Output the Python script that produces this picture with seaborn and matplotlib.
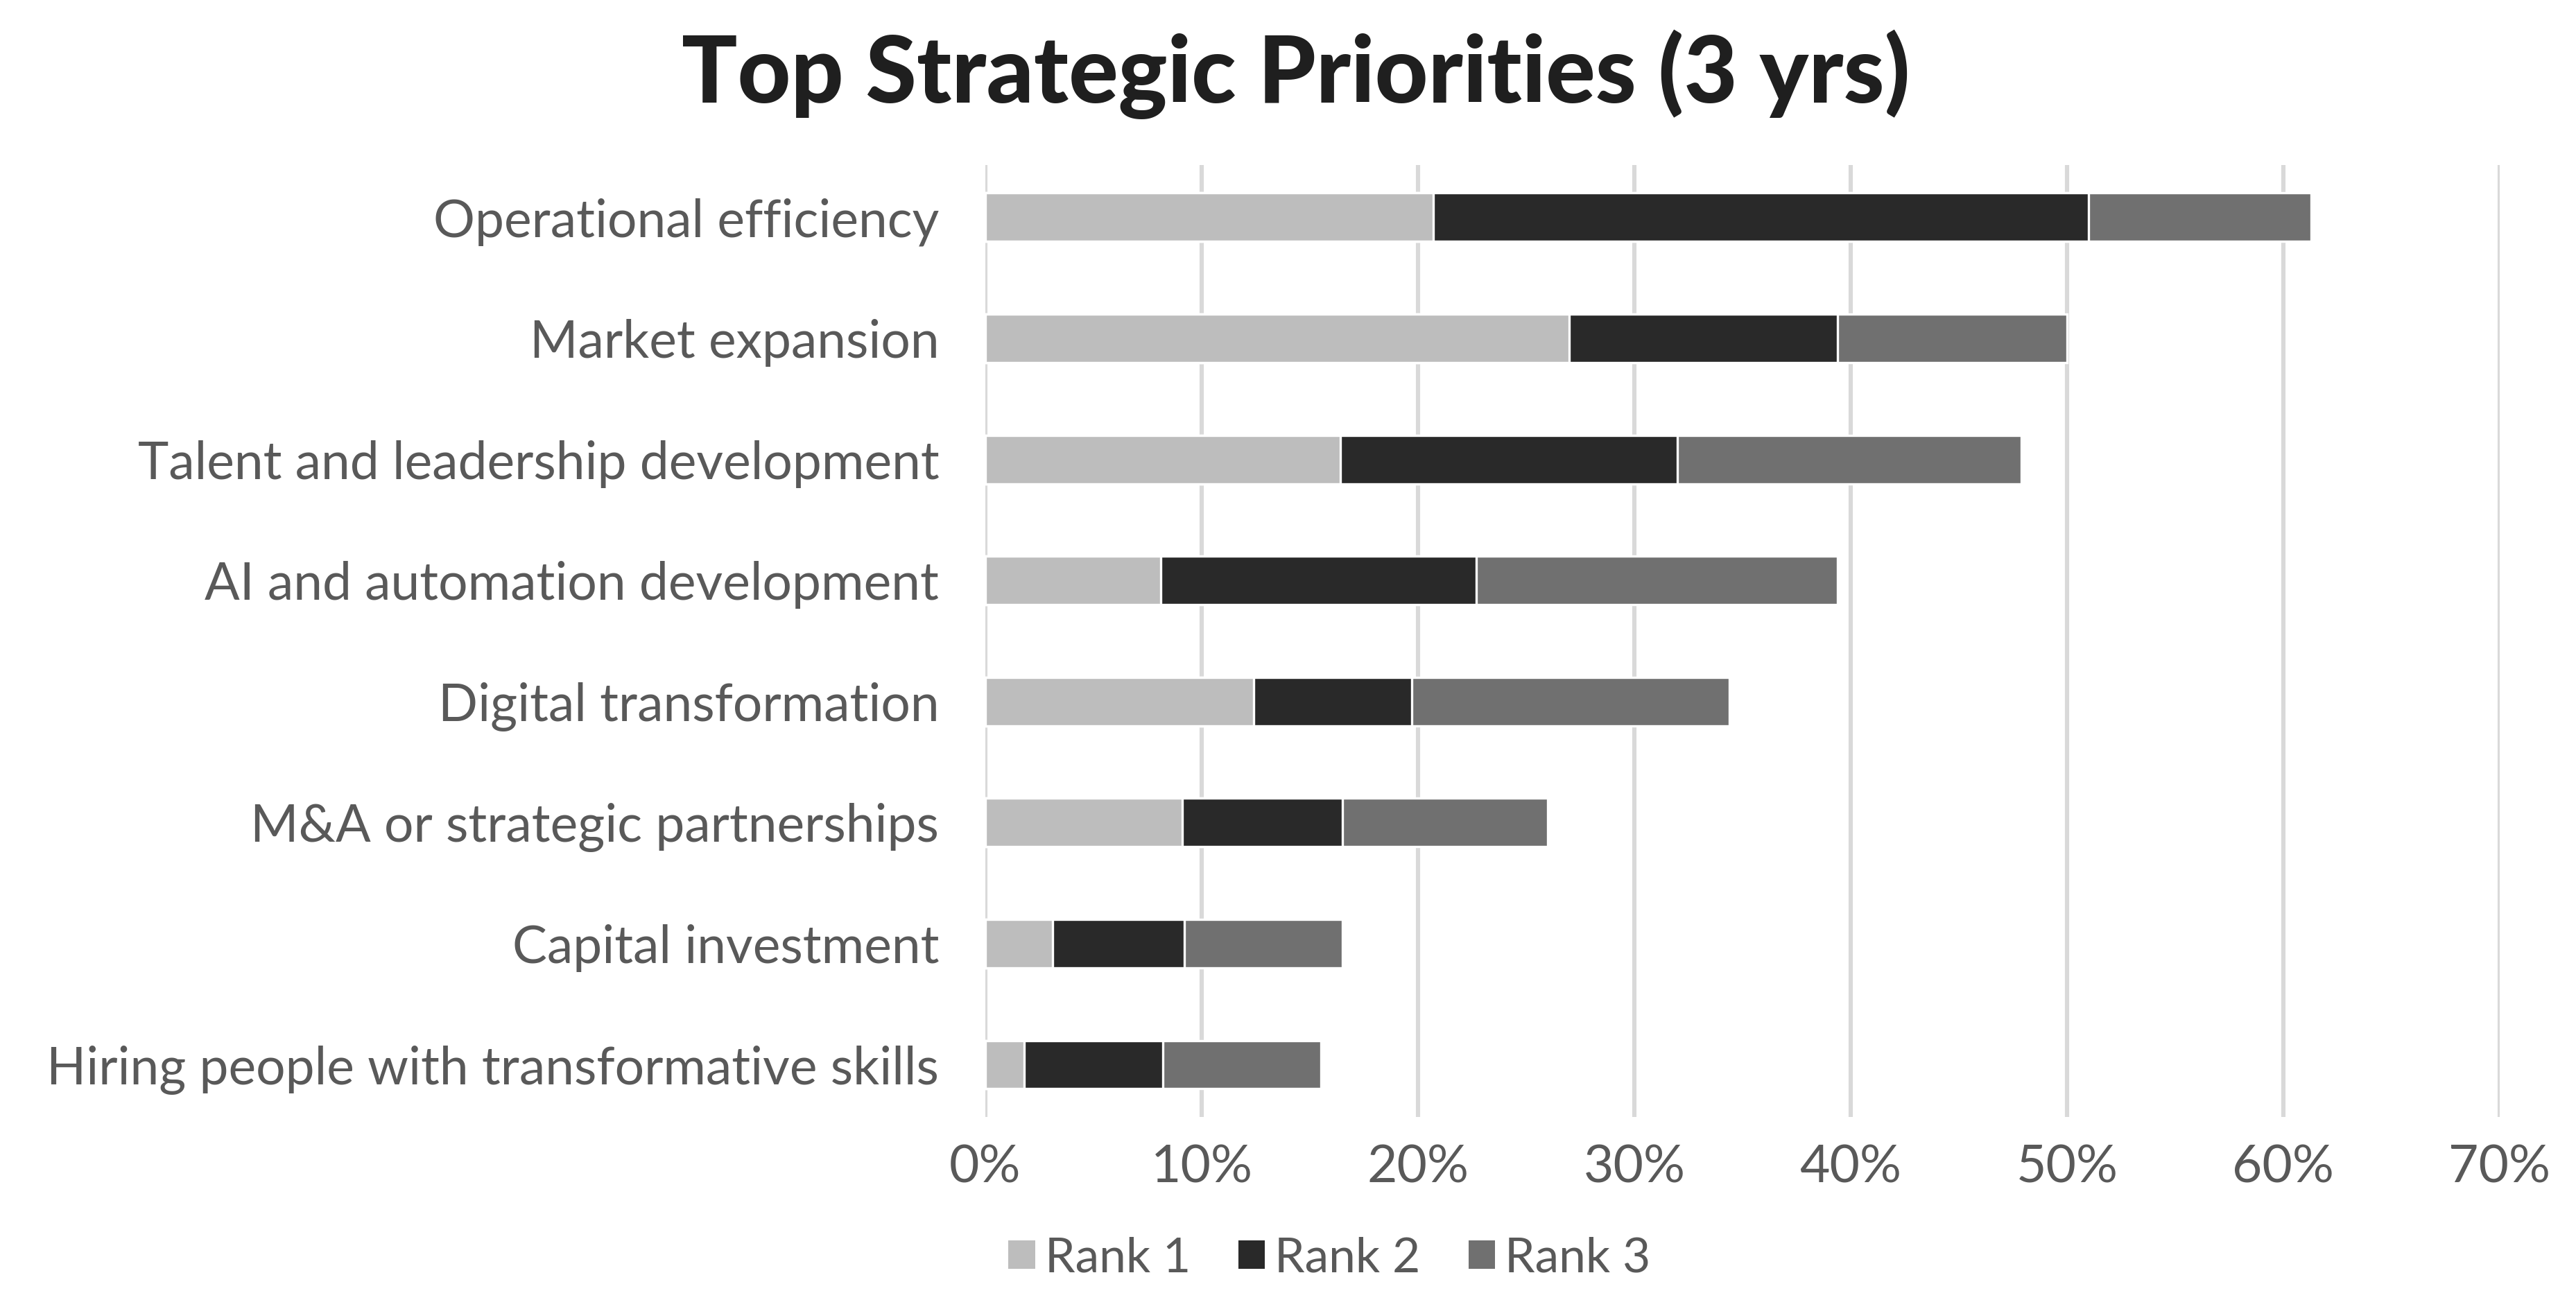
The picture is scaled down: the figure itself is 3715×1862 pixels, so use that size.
import matplotlib
matplotlib.use("Agg")
import matplotlib.pyplot as plt
from matplotlib.patches import Patch
from matplotlib.ticker import FuncFormatter, MultipleLocator
import seaborn as sns
import pandas as pd
import numpy as np

categories = [
    "Operational efficiency",
    "Market expansion",
    "Talent and leadership development",
    "AI and automation development",
    "Digital transformation",
    "M&A or strategic partnerships",
    "Capital investment",
    "Hiring people with transformative skills",
]
rank1 = [20.7, 27.0, 16.4, 8.1, 12.4, 9.1, 3.1, 1.8]
rank2 = [30.3, 12.4, 15.6, 14.6, 7.3, 7.4, 6.1, 6.4]
rank3 = [10.3, 10.6, 15.9, 16.7, 14.7, 9.5, 7.3, 7.3]
series_names = ["Rank 1", "Rank 2", "Rank 3"]
colors = ["#BDBDBD", "#292929", "#707070"]

sns.set_theme(style="white")
plt.rcParams["font.family"] = ["Lato", "DejaVu Sans"]

df = pd.DataFrame({"category": categories, "r1": rank1, "r2": rank2, "r3": rank3})
df["c1"] = df["r1"]
df["c2"] = df["r1"] + df["r2"]
df["c3"] = df["c2"] + df["r3"]

fig = plt.figure(figsize=(18.58, 9.31), dpi=200)
ax = fig.add_axes([0.3824, 0.135, 0.5877, 0.737])

for col, color in zip(["c3", "c2", "c1"], [colors[2], colors[1], colors[0]]):
    sns.barplot(data=df, y="category", x=col, order=categories, color=color,
                orient="h", width=0.4, edgecolor="white", linewidth=1.2,
                saturation=1, ax=ax, errorbar=None)

ax.set_xlim(0, 70)
ax.set_ylim(7.43, -0.43)
ax.xaxis.set_major_locator(MultipleLocator(10))
ax.xaxis.set_major_formatter(FuncFormatter(lambda v, p: f"{int(round(v))}%"))
ax.grid(axis="x", color="#D9D9D9", linewidth=2.2)
ax.grid(axis="y", visible=False)
ax.set_axisbelow(True)
for s in ax.spines.values():
    s.set_visible(False)
ax.set_xlabel("")
ax.set_ylabel("")
ax.tick_params(axis="y", length=0, pad=24, labelsize=27, labelcolor="#595959")
ax.tick_params(axis="x", length=0, pad=14, labelsize=27, labelcolor="#595959")

fig.text(0.503, 0.9425, "Top Strategic Priorities (3 yrs)", ha="center", va="center",
         fontsize=48, fontweight="black", color="#1F1F1F")

handles = [Patch(facecolor=c, edgecolor="none") for c in colors]
fig.legend(handles, series_names, loc="center", bbox_to_anchor=(0.516, 0.0255),
           ncol=3, frameon=False, fontsize=25, labelcolor="#595959",
           handlelength=0.55, handleheight=0.55, handletextpad=0.2, columnspacing=1.0)

fig.savefig("out.png", dpi=200, facecolor="white")
